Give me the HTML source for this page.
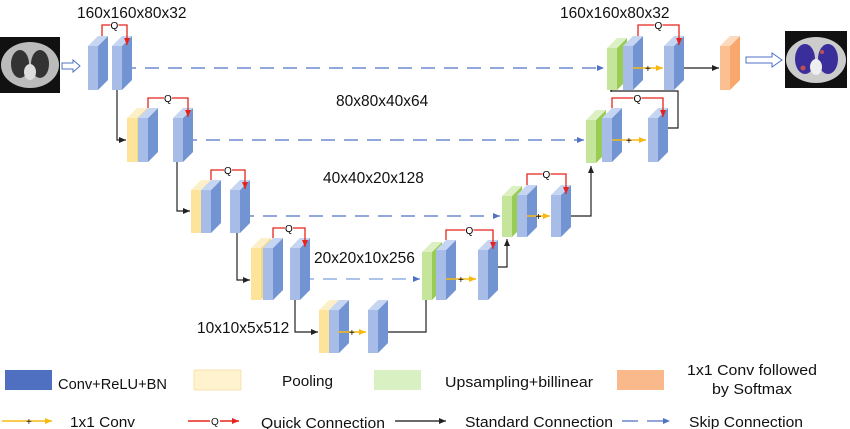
<!DOCTYPE html>
<html><head><meta charset="utf-8"><style>
html,body{margin:0;padding:0;background:#fff;}
svg{display:block;font-family:"Liberation Sans",sans-serif;}
</style></head><body>
<svg id="s" width="850" height="429" viewBox="0 0 850 429" xmlns="http://www.w3.org/2000/svg">
<defs>
<marker id="ab" markerWidth="8" markerHeight="8" refX="7" refY="4" orient="auto" markerUnits="userSpaceOnUse"><path d="M0,1 L7,4 L0,7z" fill="#222"/></marker>
<marker id="ar" markerWidth="8" markerHeight="8" refX="7" refY="4" orient="auto" markerUnits="userSpaceOnUse"><path d="M0,1 L7,4 L0,7z" fill="#e8231b"/></marker>
<marker id="ay" markerWidth="8" markerHeight="8" refX="7" refY="4" orient="auto" markerUnits="userSpaceOnUse"><path d="M0,1 L7,4 L0,7z" fill="#f6b912"/></marker>
<marker id="au" markerWidth="8" markerHeight="8" refX="7" refY="4" orient="auto" markerUnits="userSpaceOnUse"><path d="M0,1 L7,4 L0,7z" fill="#4f72c4"/></marker>
</defs>
<g id="g"></g>
<g font-size="15.5" fill="#111">
<text x="77" y="18">160x160x80x32</text>
<text x="560" y="18">160x160x80x32</text>
<text x="336" y="106">80x80x40x64</text>
<text x="323" y="183">40x40x20x128</text>
<text x="314" y="263">20x20x10x256</text>
<text x="197" y="333">10x10x5x512</text>
</g>
<g font-size="15" fill="#111">
<rect x="5" y="370" width="47" height="20" fill="#4f6fc0"/>
<text x="58" y="389" textLength="109" lengthAdjust="spacingAndGlyphs">Conv+ReLU+BN</text>
<rect x="194" y="370" width="47" height="20" fill="#fff3cf" stroke="#f6dfa0" stroke-width="0.8"/>
<text x="282" y="386" textLength="51" lengthAdjust="spacingAndGlyphs">Pooling</text>
<rect x="374" y="370" width="47" height="20" fill="#d9f0c2"/>
<text x="445" y="387" textLength="148" lengthAdjust="spacingAndGlyphs">Upsampling+billinear</text>
<rect x="617" y="370" width="47" height="20" fill="#f9b98a"/>
<text x="687" y="375" textLength="130" lengthAdjust="spacingAndGlyphs">1x1 Conv followed</text>
<text x="712" y="394" textLength="80" lengthAdjust="spacingAndGlyphs">by Softmax</text>
<line x1="2" y1="421" x2="52" y2="421" stroke="#f6b912" stroke-width="1.5" marker-end="url(#ay)"/>
<text x="26" y="425" font-size="10">+</text>
<text x="70" y="427" textLength="65" lengthAdjust="spacingAndGlyphs">1x1 Conv</text>
<line x1="188" y1="421" x2="239" y2="421" stroke="#e8231b" stroke-width="1.5" marker-end="url(#ar)"/>
<rect x="210" y="415" width="10" height="11" fill="#fff"/>
<text x="211" y="425" font-size="10">Q</text>
<text x="261" y="428" textLength="124" lengthAdjust="spacingAndGlyphs">Quick Connection</text>
<line x1="395" y1="421" x2="446" y2="421" stroke="#111" stroke-width="1.3" marker-end="url(#ab)"/>
<text x="465" y="427" textLength="148" lengthAdjust="spacingAndGlyphs">Standard Connection</text>
<line x1="622" y1="421" x2="670" y2="421" stroke="#4f72c4" stroke-width="1.3" stroke-dasharray="16,9" marker-end="url(#au)"/>
<text x="689" y="427" textLength="114" lengthAdjust="spacingAndGlyphs">Skip Connection</text>
</g>
</svg>
<script>
var g=document.getElementById('g'),h='';
function blk(x,y,hh,front,side,top){
 h+='<polygon points="'+(x+10)+','+y+' '+(x+20)+','+(y-10)+' '+(x+20)+','+(y+hh-10)+' '+(x+10)+','+(y+hh)+'" fill="'+side+'"/>';
 h+='<polygon points="'+x+','+y+' '+(x+10)+','+(y-10)+' '+(x+20)+','+(y-10)+' '+(x+10)+','+y+'" fill="'+top+'"/>';
 h+='<rect x="'+x+'" y="'+y+'" width="10" height="'+hh+'" fill="'+front+'"/>';
}
function B(x,y,hh){blk(x,y,hh,'#a7bce6','#7294d2','#c6d5f2');}
function P(x,y,hh){blk(x,y,hh,'#fde49a','#f0d98a','#fdf0c8');}
function G(x,y,hh){blk(x,y,hh,'#c4e59a','#98cc55','#dcf0c4');}
function O(x,y,hh){blk(x,y,hh,'#fbbf91','#f8a86c','#fdd9bd');}
function L(d,c,w,m,da){h+='<path d="'+d+'" fill="none" stroke="'+c+'" stroke-width="'+(w||1.3)+'"'+(m?' marker-end="url(#'+m+')"':'')+(da?' stroke-dasharray="'+da+'"':'')+'/>';}
function Q(x1,x2,y1,yt,yb){L('M'+x1+','+y1+' V'+yt+' H'+x2+' V'+yb,'#e8231b',1.3,'ar');h+='<rect x="'+((x1+x2)/2-4)+'" y="'+(yt-6)+'" width="8" height="10" fill="#fff"/><text x="'+((x1+x2)/2-4)+'" y="'+(yt+4)+'" font-size="10">Q</text>';}
function Y(x1,x2,y){L('M'+x1+','+y+' H'+x2,'#f6b912',1.5,'ay');h+='<text x="'+((x1+x2)/2-3)+'" y="'+(y+4)+'" font-size="10">+</text>';}
L('M122,68 H604','#4f72c4',1.3,'au','14,9');
L('M183,140 H584','#4f72c4',1.3,'au','14,9');
L('M240,216 H500','#4f72c4',1.3,'au','14,9');
L('M300,279 H420','#7aa0dc',1.3,'au','14,9');
L('M117,90 V140 H126','#222',1.2,'ab');
L('M177,162 V211 H190','#222',1.2,'ab');
L('M237,233 V280 H250','#222',1.2,'ab');
L('M295,300 V332 H318','#222',1.2,'ab');
L('M378,332 H426 V252','#222',1.2,'ab');
L('M498,267 H507 V239','#222',1.2,'ab');
L('M561,216 H591 V166','#222',1.2,'ab');
L('M668,128 H678 V91 H611 V92','#222',1.2,'ab');
L('M674,68 H719','#222',1.2,'ab');
B(88,46,44);B(112,46,44);Q(102,127,36,25,45);
P(127,118,44);B(138,118,44);B(173,118,44);Q(148,188,108,98,117);
P(191,190,43);B(201,190,43);B(230,190,43);Q(211,245,180,170,189);
P(251,248,52);B(263,248,52);B(290,248,52);Q(273,305,238,228,247);
P(319,310,43);B(329,310,43);B(368,310,43);Y(338,366,332);
G(422,252,48);B(436,250,50);B(478,250,50);Q(446,493,240,230,249);Y(446,476,279);
G(502,196,41);B(517,195,42);B(551,195,42);Q(527,566,185,174,194);Y(527,550,216);
G(586,120,43);B(602,118,44);B(648,118,44);Q(612,663,108,98,117);Y(612,646,140);
G(607,48,42);B(623,46,44);B(664,46,44);Q(638,679,36,25,45);Y(633,663,68);
O(720,46,44);
h+='<rect x="0" y="37" width="60" height="56" fill="#111"/><ellipse cx="30" cy="65" rx="29" ry="23" fill="#bbb"/><ellipse cx="20" cy="64" rx="9" ry="14" fill="#333"/><ellipse cx="40" cy="64" rx="9" ry="14" fill="#333"/><ellipse cx="30" cy="72" rx="6" ry="8" fill="#ddd"/>';
h+='<rect x="785" y="31" width="62" height="57" fill="#111"/><ellipse cx="816" cy="60" rx="30" ry="23" fill="#ccc"/><ellipse cx="805" cy="59" rx="10" ry="15" fill="#3a2f9a"/><ellipse cx="828" cy="59" rx="10" ry="15" fill="#3a2f9a"/><ellipse cx="816" cy="67" rx="6" ry="8" fill="#eee"/><circle cx="803" cy="68" r="2.5" fill="#c0504d"/><circle cx="822" cy="52" r="2" fill="#c0504d"/>';
h+='<path d="M62,63 H73 V60 L80,66 L73,72 V69 H62z" fill="#fff" stroke="#4f72c4" stroke-width="1"/>';
h+='<path d="M746,57 H772 V53 L782,60 L772,67 V63 H746z" fill="#fff" stroke="#4f72c4" stroke-width="1"/>';
g.innerHTML=h;
</script>
</body></html>
